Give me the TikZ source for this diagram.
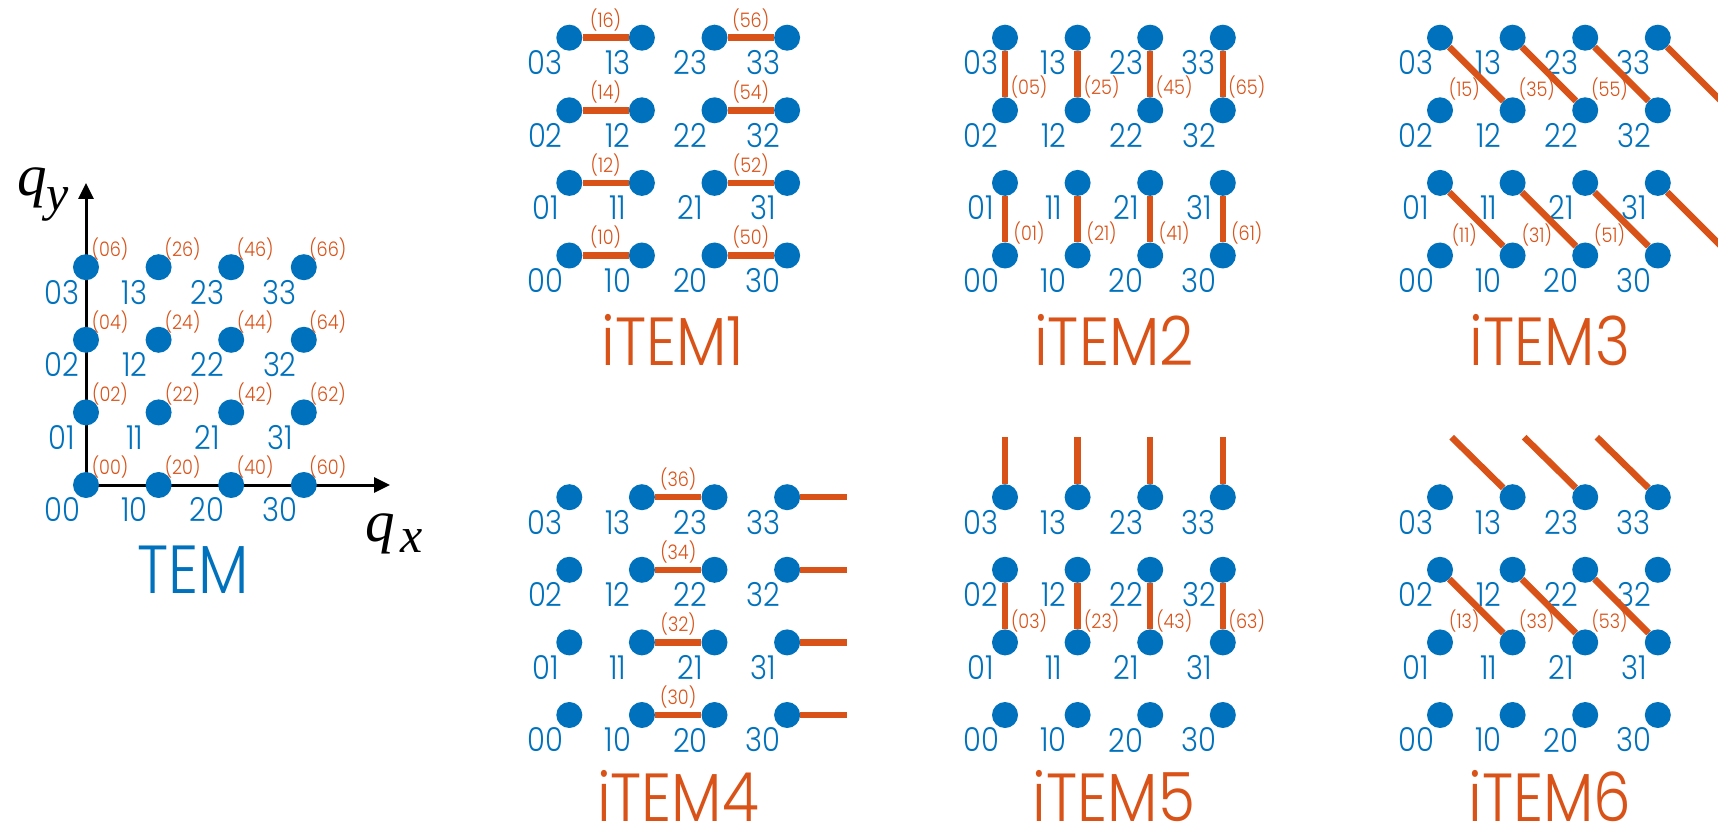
\documentclass[tikz,border=0pt]{standalone}
\usepackage{fontspec}
\IfFontExistsTF{Poppins Light}
  {\setmainfont{Poppins Light}[FakeStretch=0.88]}
  {\setmainfont{Poppins}[FakeStretch=0.88]}
\newfontfamily\axisfont{Liberation Serif}
\usetikzlibrary{arrows.meta,calc}

\definecolor{dotblue}{HTML}{0072BD}
\definecolor{bondorange}{HTML}{D95319}

\tikzset{
  site/.style={circle, fill=dotblue, inner sep=0pt, minimum size=26pt},
  sitelabel/.style={text=dotblue, font=\fontsize{33}{33}\selectfont, inner sep=0pt},
  idx/.style={text=bondorange, font=\fontsize{20}{20}\selectfont, inner sep=0pt, anchor=base},
  bond/.style={draw=bondorange, line width=6.5pt},
  paneltitle/.style={font=\fontsize{68}{68}\selectfont, inner sep=0pt, text depth=0pt, anchor=base},
  axisline/.style={line width=3pt, -{Triangle[length=16pt,width=15pt]}},
  axislabel/.style={font=\axisfont\itshape\fontsize{59}{59}\selectfont, inner sep=0pt, anchor=base},
}

% axis symbol q with a lowered subscript: subscript, gap, drop
\newcommand\qsym[3]{q\kern#2\raisebox{-#3}{\fontsize{50}{50}\selectfont #1}}

% 4x4 lattice of sites with their two-digit labels: prefix, x of column 0, y of row 0
\newcommand\sitegrid[3]{%
  \foreach \i in {0,...,3}{%
    \foreach \j in {0,...,3}{%
      \node[site] (#1\i\j) at ({#2+72.6*\i},{#3-72.6*\j}) {};
      \node[sitelabel] (#1\i\j-lab) at ({#2+72.6*\i-24},{#3-72.6*\j+25}) {\i\j};
    }%
  }%
}

\begin{document}
\begin{tikzpicture}[x=1pt,y=-1pt]
\clip (0,0) rectangle (1718,826);
\fill[white] (0,0) rectangle (1718,826);

% ---------- TEM ----------
\coordinate (origin) at (86,485);
\coordinate (yend) at (86,183);
\coordinate (xend) at (390,485);
\draw[axisline] (origin) -- (yend);
\draw[axisline] (origin) -- (xend);
\node[axislabel] (qy) at (43,196) {\qsym{y}{0pt}{14.5pt}};
\node[axislabel] (qx) at (394,541) {\qsym{x}{5pt}{11pt}};
\sitegrid{t}{86}{485}
\foreach \i in {0,...,3}{%
  \foreach \j in {0,...,3}{%
    \pgfmathtruncatemacro\ii{2*\i}%
    \pgfmathtruncatemacro\jj{2*\j}%
    \node[idx] (t\i\j-idx) at ($(t\i\j)+(24,-10.5)$) {(\ii\jj)};
  }%
}
\node[paneltitle, text=dotblue] (temtitle) at (193,593) {TEM};

% ---------- iTEM1: horizontal pairs ----------
\sitegrid{a}{569.3}{255.5}
\foreach \i in {0,2}{%
  \foreach \j in {0,...,3}{%
    \pgfmathtruncatemacro\k{\i+1}%
    \pgfmathtruncatemacro\ii{2*\i+1}%
    \pgfmathtruncatemacro\jj{2*\j}%
    \draw[bond] (a\i\j) -- (a\k\j);
    \node[idx] (a\i\j-idx) at ($(a\i\j)!0.5!(a\k\j)+(0,-10.5)$) {(\ii\jj)};
  }%
}
\node[paneltitle, text=bondorange] (title1) at (673,365) {iTEM1};

% ---------- iTEM2: vertical pairs ----------
\sitegrid{b}{1005}{255.5}
\foreach \i in {0,...,3}{%
  \foreach \j in {0,2}{%
    \pgfmathtruncatemacro\k{\j+1}%
    \pgfmathtruncatemacro\ii{2*\i}%
    \pgfmathtruncatemacro\jj{2*\j+1}%
    \draw[bond] (b\i\j) -- (b\i\k);
    \node[idx] (b\i\j-idx) at ($(b\i\j)!0.5!(b\i\k)+(24,21)$) {(\ii\jj)};
  }%
}
\node[paneltitle, text=bondorange] (title2) at (1114,365) {iTEM2};

% ---------- iTEM3: diagonal pairs ----------
\sitegrid{c}{1440}{255.5}
\foreach \j in {0,2}{%
  \pgfmathtruncatemacro\k{\j+1}%
  \foreach \i in {0,1,2}{%
    \pgfmathtruncatemacro\m{\i+1}%
    \pgfmathtruncatemacro\ii{2*\i+1}%
    \pgfmathtruncatemacro\jj{2*\j+1}%
    \draw[bond] (c\i\k) -- (c\m\j);
    \node[idx] (c\i\j-idx) at ($(c\i\k)!0.5!(c\m\j)+(-12,23)$) {(\ii\jj)};
  }%
  \coordinate (c3\k-end) at ($(c3\k)+(64,64)$);
  \draw[bond] (c3\k) -- (c3\k-end);
}
\node[paneltitle, text=bondorange] (title3) at (1550,365) {iTEM3};

% ---------- iTEM4: shifted horizontal pairs ----------
\sitegrid{d}{569.3}{715}
\foreach \j in {0,...,3}{%
  \pgfmathtruncatemacro\jj{2*\j}%
  \draw[bond] (d1\j) -- (d2\j);
  \node[idx] (d1\j-idx) at ($(d1\j)!0.5!(d2\j)+(0,-10.5)$) {(3\jj)};
  \coordinate (d3\j-end) at ($(d3\j)+(60,0)$);
  \draw[bond] (d3\j) -- (d3\j-end);
}
\node[paneltitle, text=bondorange] (title4) at (678,821) {iTEM4};

% ---------- iTEM5: shifted vertical pairs ----------
\sitegrid{e}{1005}{715}
\foreach \i in {0,...,3}{%
  \pgfmathtruncatemacro\ii{2*\i}%
  \draw[bond] (e\i1) -- (e\i2);
  \node[idx] (e\i1-idx) at ($(e\i1)!0.5!(e\i2)+(24,22)$) {(\ii3)};
  \coordinate (e\i3-end) at ($(e\i3)+(0,-60)$);
  \draw[bond] (e\i3) -- (e\i3-end);
}
\node[paneltitle, text=bondorange] (title5) at (1114,821) {iTEM5};

% ---------- iTEM6: shifted diagonal pairs ----------
\sitegrid{f}{1440}{715}
\foreach \i in {0,1,2}{%
  \pgfmathtruncatemacro\m{\i+1}%
  \pgfmathtruncatemacro\ii{2*\i+1}%
  \draw[bond] (f\i2) -- (f\m1);
  \node[idx] (f\i2-idx) at ($(f\i2)!0.5!(f\m1)+(-12,22)$) {(\ii3)};
  \coordinate (f\m3-end) at ($(f\m3)+(-61,-60)$);
  \draw[bond] (f\m3) -- (f\m3-end);
}
\node[paneltitle, text=bondorange] (title6) at (1550,821) {iTEM6};
\end{tikzpicture}
\end{document}
